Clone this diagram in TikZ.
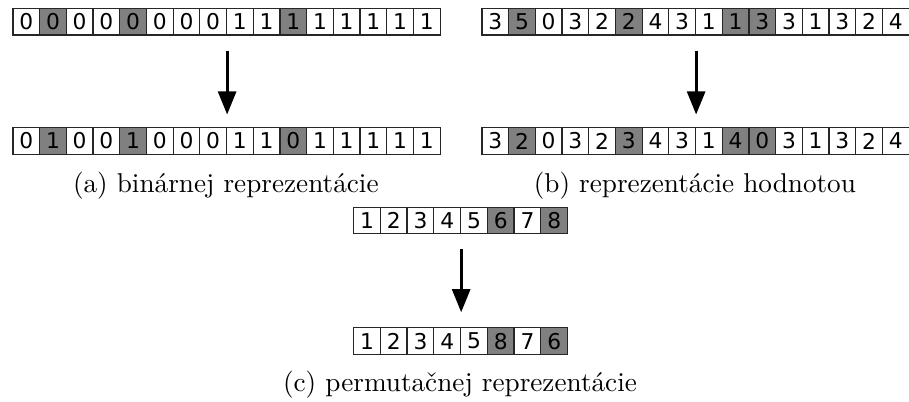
\documentclass[tikz,border=0pt]{standalone}
\usepackage{fontspec}
\newfontfamily\cellfont{DejaVu Sans}
\usepackage{tikz}
\usetikzlibrary{arrows.meta}
\definecolor{seda}{gray}{0.5}

\tikzset{
  cell/.style={draw=black!85, line width=0.45pt, fill=white,
    minimum width=9.815pt, minimum height=9.815pt, inner sep=0pt,
    anchor=west, font=\cellfont\fontsize{8}{9}\selectfont},
  biela/.style={},
  tmava/.style={fill=seda},
  sipka/.style={-{Triangle[length=8.5pt,width=6.6pt]}, line width=1.1pt},
  popis/.style={font=\fontsize{10}{12}\selectfont},
}

\begin{document}
\begin{tikzpicture}[x=0.3676pt, y=-0.3676pt]
        \useasboundingbox (0,0) rectangle (909,401);

        % (a) binarna reprezentacia
        \foreach \v/\s [count=\i] in {0/biela,0/tmava,0/biela,0/biela,0/tmava,0/biela,0/biela,0/biela,1/biela,1/biela,1/tmava,1/biela,1/biela,1/biela,1/biela,1/biela}
          \node[cell,\s] (a1-\i) at ({12.3+(\i-1)*26.7},21.6) {\v};
        \foreach \v/\s [count=\i] in {0/biela,1/tmava,0/biela,0/biela,1/tmava,0/biela,0/biela,0/biela,1/biela,1/biela,0/tmava,1/biela,1/biela,1/biela,1/biela,1/biela}
          \node[cell,\s] (a2-\i) at ({12.3+(\i-1)*26.7},141) {\v};
        \draw[sipka, shorten <=5.5pt, shorten >=4.6pt] (a1-8.south east) -- (a2-8.north east);
        \node[popis] (popis-a) at (225.8,186) {(a) binárnej reprezentácie};

        % (b) reprezentacia hodnotou
        \foreach \v/\s [count=\i] in {3/biela,5/tmava,0/biela,3/biela,2/biela,2/tmava,4/biela,3/biela,1/biela,1/tmava,3/tmava,3/biela,1/biela,3/biela,2/biela,4/biela}
          \node[cell,\s] (b1-\i) at ({481.3+(\i-1)*26.7},21.6) {\v};
        \foreach \v/\s [count=\i] in {3/biela,2/tmava,0/biela,3/biela,2/biela,3/tmava,4/biela,3/biela,1/biela,4/tmava,0/tmava,3/biela,1/biela,3/biela,2/biela,4/biela}
          \node[cell,\s] (b2-\i) at ({481.3+(\i-1)*26.7},141) {\v};
        \draw[sipka, shorten <=5.5pt, shorten >=4.6pt] (b1-8.south east) -- (b2-8.north east);
        \node[popis] (popis-b) at (694.9,186) {(b) reprezentácie hodnotou};

        % (c) permutacna reprezentacia
        \foreach \v/\s [count=\i] in {1/biela,2/biela,3/biela,4/biela,5/biela,6/tmava,7/biela,8/tmava}
          \node[cell,\s] (c1-\i) at ({353+(\i-1)*26.75},220.5) {\v};
        \foreach \v/\s [count=\i] in {1/biela,2/biela,3/biela,4/biela,5/biela,8/tmava,7/biela,6/tmava}
          \node[cell,\s] (c2-\i) at ({353+(\i-1)*26.75},341.2) {\v};
        \draw[sipka, shorten <=5.5pt, shorten >=5.5pt] (c1-4.south east) -- (c2-4.north east);
        \node[popis] (popis-c) at (460,385) {(c) permutačnej reprezentácie};
\end{tikzpicture}
\end{document}
